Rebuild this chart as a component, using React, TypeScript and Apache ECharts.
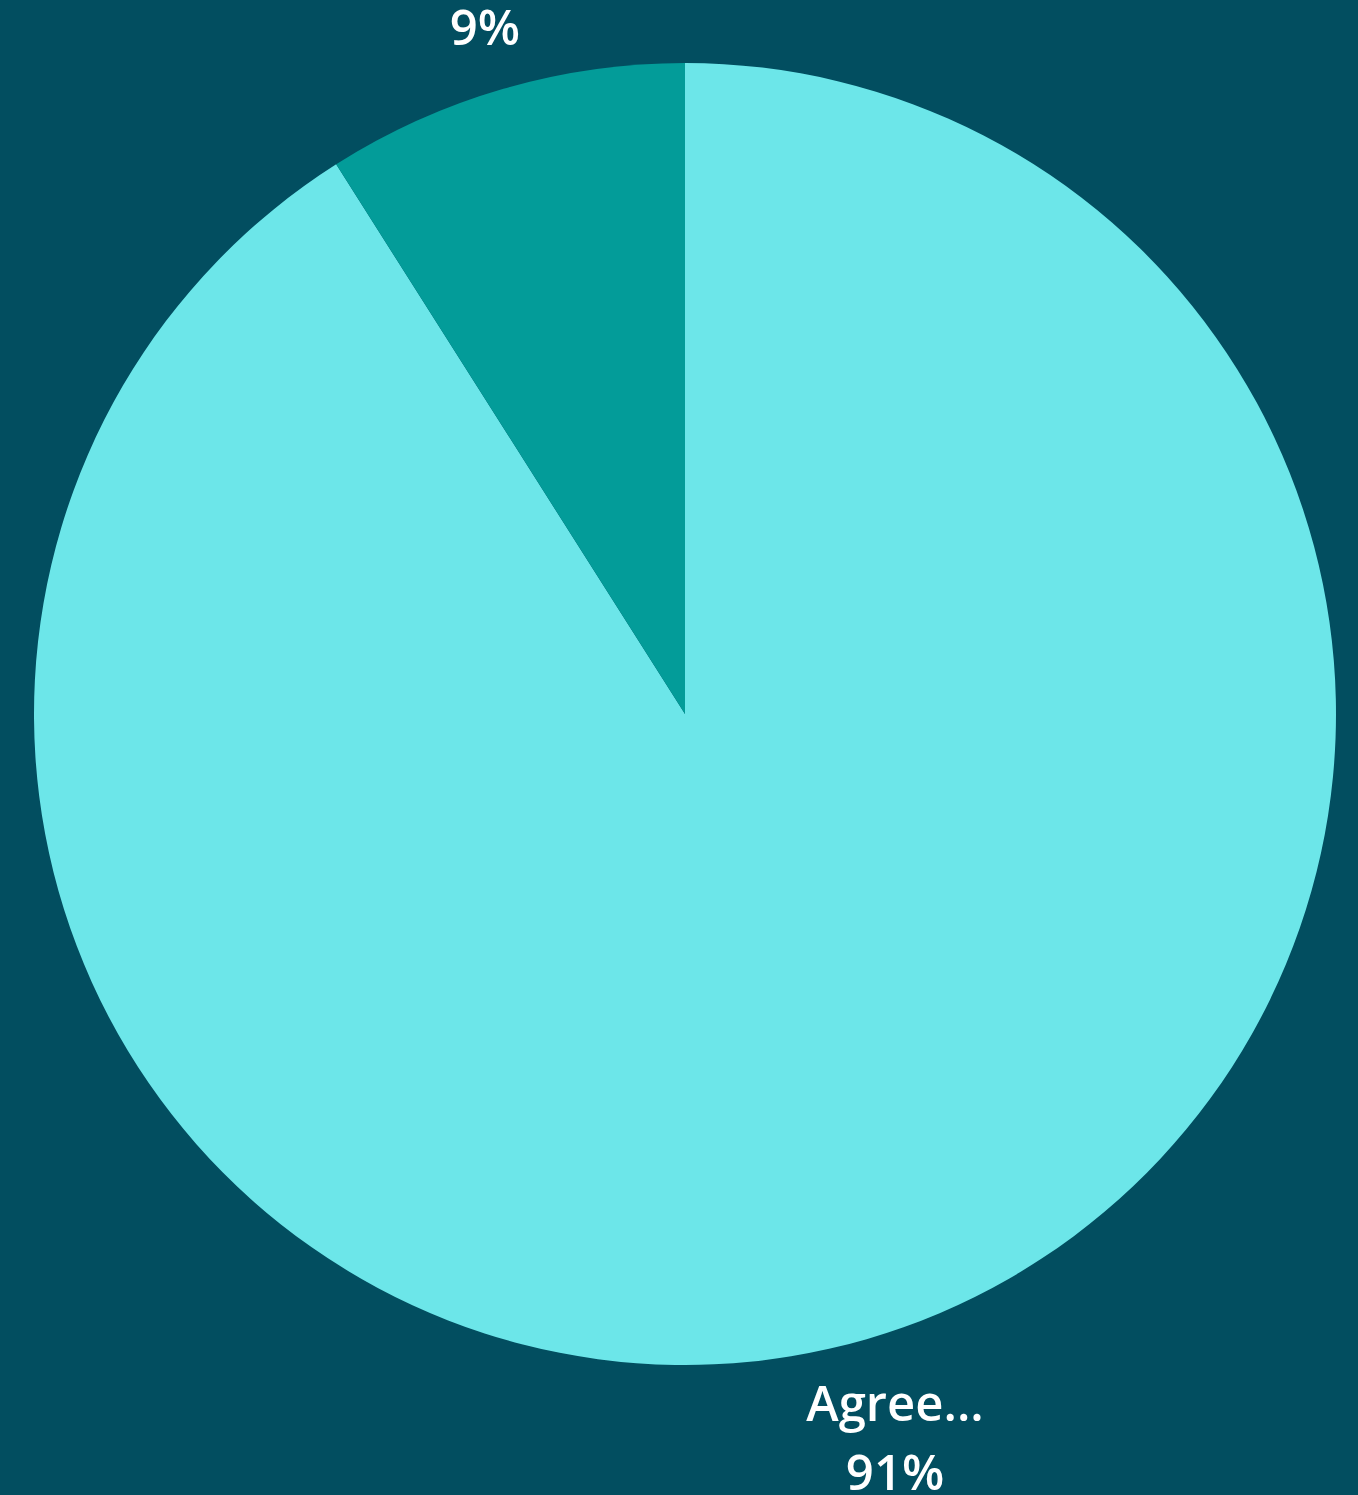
import React, { useEffect, useRef } from "react";
import * as echarts from "echarts";

const categories = ["Agree...", ""];
const values = [91, 9];

const CX = 685;
const CY = 714;
const R = 651;

export default function App() {
  const ref = useRef<HTMLDivElement>(null);
  useEffect(() => {
    document.body.style.margin = "0";
    const chart = echarts.init(ref.current!, null, { renderer: "svg" });
    const total = values.reduce((a, b) => a + b, 0);
    const mids: number[] = [];
    let acc = 0;
    values.forEach((v) => {
      mids.push(((acc + v / 2) / total) * Math.PI * 2);
      acc += v;
    });
    chart.setOption({
      animation: false,
      backgroundColor: "#024e60",
      series: [
        {
          type: "pie",
          center: [CX, CY],
          radius: [0, R],
          startAngle: 90,
          clockwise: true,
          data: categories.map((name, i) => ({ name, value: values[i] })),
          color: ["#6ce6e9", "#039c99"],
          itemStyle: { borderWidth: 0 },
          label: {
            show: true,
            position: "outside",
            color: "#ffffff",
            fontFamily: "Open Sans",
            fontWeight: 600,
            fontSize: 49,
            lineHeight: 69,
            align: "center",
            formatter: (p: any) => (p.name ? `${p.name}\n${p.value}%` : `${p.value}%`),
          },
          labelLine: { show: false },
          labelLayout: (params: any) => {
            const a = mids[params.dataIndex];
            const dx = Math.sin(a);
            const dy = -Math.cos(a);
            const h = params.labelRect.height;
            const d = R + 30 + h / 2 / Math.abs(Math.cos(a));
            return {
              x: CX + dx * d,
              y: CY + dy * d,
              align: "center",
              verticalAlign: "middle",
            };
          },
        },
      ],
    });
    return () => chart.dispose();
  }, []);
  return <div ref={ref} style={{ width: 1358, height: 1495 }} />;
}
